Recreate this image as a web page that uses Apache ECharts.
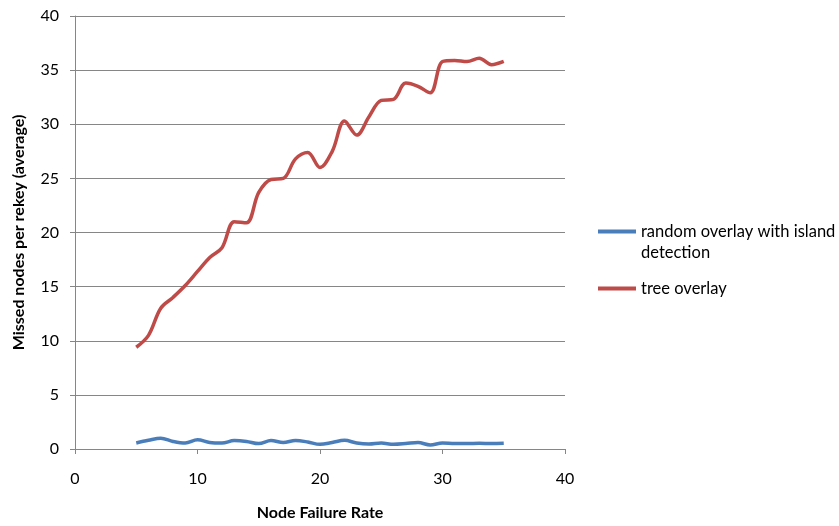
<!DOCTYPE html>
<html>
<head>
<meta charset="utf-8">
<script src="https://cdn.jsdelivr.net/npm/echarts@6/dist/echarts.min.js"></script>
<style>
  html, body { margin: 0; padding: 0; background: #fff; }
  #chart { width: 839px; height: 526px; }
</style>
</head>
<body>
<div id="chart"></div>
<script>
// Node failure rate (x) and average missed nodes per rekey for each overlay
const failureRates = [5, 6, 7, 8, 9, 10, 11, 12, 13, 14, 15, 16, 17, 18, 19, 20,
  21, 22, 23, 24, 25, 26, 27, 28, 29, 30, 31, 32, 33, 34, 35];
const randomOverlay = [0.55, 0.8, 1.0, 0.7, 0.55, 0.85, 0.6, 0.55, 0.78, 0.7, 0.5,
  0.78, 0.6, 0.78, 0.65, 0.43, 0.6, 0.8, 0.55, 0.46, 0.55, 0.43, 0.5, 0.6, 0.37,
  0.55, 0.5, 0.5, 0.52, 0.5, 0.52];
const treeOverlay = [9.4, 10.5, 13.0, 14.0, 15.1, 16.4, 17.7, 18.6, 21.0, 20.9, 23.7,
  24.9, 25.0, 26.8, 27.4, 26.0, 27.5, 30.3, 29.0, 30.7, 32.2, 32.3, 33.8, 33.5, 32.9,
  35.8, 35.9, 35.8, 36.1, 35.5, 35.8];
const xTicks = { min: 0, max: 40, interval: 10 };
const yTicks = { min: 0, max: 40, interval: 5 };

const seriesNames = ['random overlay with island detection', 'tree overlay'];
const seriesColors = ['#4A7EBB', '#BE4B48'];

const FONT = 'Lato';
const FS = 16;
const axisGray = '#868686';

const chart = echarts.init(document.getElementById('chart'), null, { renderer: 'canvas' });

function pairs(values) {
  return failureRates.map((x, i) => [x, values[i]]);
}

const legendText = { fontFamily: FONT, fontSize: 16.5, color: '#000', lineHeight: 21 };

chart.setOption({
  animation: false,
  backgroundColor: '#ffffff',
  textStyle: { fontFamily: FONT },
  grid: { left: 75, right: 274, top: 16, bottom: 76, containLabel: false },
  legend: [
    {
      // leading blank line keeps the first text line level with the swatch
      data: [seriesNames[0]],
      orient: 'vertical',
      left: 593,
      top: 195,
      icon: 'rect',
      itemWidth: 38,
      itemHeight: 4,
      itemGap: 0,
      formatter: () => ' \nrandom overlay with island\ndetection',
      textStyle: legendText
    },
    {
      data: [seriesNames[1]],
      orient: 'vertical',
      left: 593,
      top: 273,
      icon: 'rect',
      itemWidth: 38,
      itemHeight: 4,
      itemGap: 0,
      textStyle: legendText
    }
  ],
  xAxis: {
    type: 'value',
    min: xTicks.min,
    max: xTicks.max,
    interval: xTicks.interval,
    name: 'Node Failure Rate',
    nameLocation: 'middle',
    nameGap: 56,
    nameTextStyle: { fontFamily: FONT, fontSize: FS, fontWeight: 'bold', color: '#000' },
    axisLine: { show: true, onZero: false, lineStyle: { color: axisGray, width: 1 } },
    axisTick: { show: true, length: 5, inside: false, lineStyle: { color: axisGray } },
    axisLabel: { margin: 22, fontFamily: FONT, fontSize: FS, color: '#000' },
    splitLine: { show: false }
  },
  yAxis: {
    type: 'value',
    min: yTicks.min,
    max: yTicks.max,
    interval: yTicks.interval,
    name: 'Missed nodes per rekey (average)',
    nameLocation: 'middle',
    nameGap: 48,
    nameRotate: 90,
    nameTextStyle: { fontFamily: FONT, fontSize: FS, fontWeight: 'bold', color: '#000' },
    axisLine: { show: true, lineStyle: { color: axisGray, width: 1 } },
    axisTick: { show: true, length: 5, inside: false, lineStyle: { color: axisGray } },
    axisLabel: { margin: 16, fontFamily: FONT, fontSize: FS, color: '#000' },
    splitLine: { show: true, lineStyle: { color: axisGray, width: 1 } }
  },
  series: [
    {
      name: seriesNames[0],
      type: 'line',
      data: pairs(randomOverlay),
      smooth: 0.35,
      showSymbol: false,
      symbol: 'none',
      color: seriesColors[0],
      lineStyle: { color: seriesColors[0], width: 3.5 }
    },
    {
      name: seriesNames[1],
      type: 'line',
      data: pairs(treeOverlay),
      smooth: 0.35,
      showSymbol: false,
      symbol: 'none',
      color: seriesColors[1],
      lineStyle: { color: seriesColors[1], width: 3.5 }
    }
  ]
});
</script>
</body>
</html>
